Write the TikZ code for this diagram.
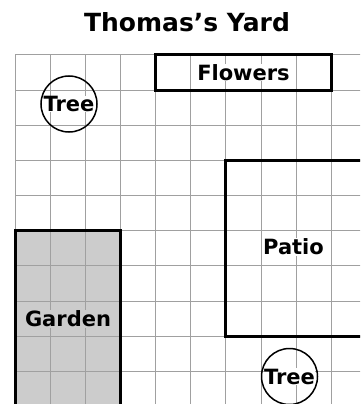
\documentclass[tikz,border=0pt]{standalone}
\usepackage{fontspec}
\setmainfont{DejaVu Sans}
\usepackage{tikz}
\usepackage{xcolor}
\usetikzlibrary{positioning,calc}
\definecolor{GridGray}{RGB}{160,160,160}
\definecolor{GardenGray}{RGB}{204,204,204}
\def\cell{35.15}

\begin{document}
\begin{tikzpicture}[x=1pt, y=-1pt,
  every node/.style={font=\bfseries\fontsize{21}{25}\selectfont},
  gridline/.style={draw=GridGray, line width=1pt},
  plotbox/.style={draw=black, line width=3pt},
  lbl/.style={fill=white, inner sep=0.5pt}]
\useasboundingbox (0,0) rectangle (360,404);
\clip (0,0) rectangle (360,404);

% title
\node (title) at (187,22) {\fontsize{25}{30}\selectfont Thomas’s Yard};

% garden fill goes under the grid
\fill[GardenGray] (15,{55+5*\cell}) rectangle ({15+3*\cell},410);

% grid
\foreach \i in {0,...,9}
  \draw[gridline] ({15+\i*\cell},55) -- ({15+\i*\cell},410);
\foreach \j in {0,...,9}
  \draw[gridline] (15,{55+\j*\cell}) -- (365,{55+\j*\cell});

% plots
\draw[plotbox] ({15+4*\cell},55) rectangle ({15+9*\cell},{55+\cell});
\draw[plotbox] (15,410) -- (15,{55+5*\cell}) -- ({15+3*\cell},{55+5*\cell}) -- ({15+3*\cell},410);
\draw[plotbox] (370,{55+3*\cell}) -- ({15+6*\cell},{55+3*\cell}) -- ({15+6*\cell},{55+8*\cell}) -- (370,{55+8*\cell});

\node[lbl] (flowers) at (243.5,72.6) {Flowers};
\node[lbl] (patio) at (293.5,247) {Patio};
\node[lbl, fill=GardenGray] (garden) at (68,319) {Garden};

% trees
\node[circle, draw, line width=1.5pt, minimum size=56pt] (tree1) at (69,104) {};
\node[lbl] (tree1lbl) at (tree1.center) {Tree};
\node[circle, draw, line width=1.5pt, minimum size=56pt] (tree2) at (289.5,376.5) {};
\node[lbl] (tree2lbl) at (tree2.center) {Tree};
\end{tikzpicture}
\end{document}
